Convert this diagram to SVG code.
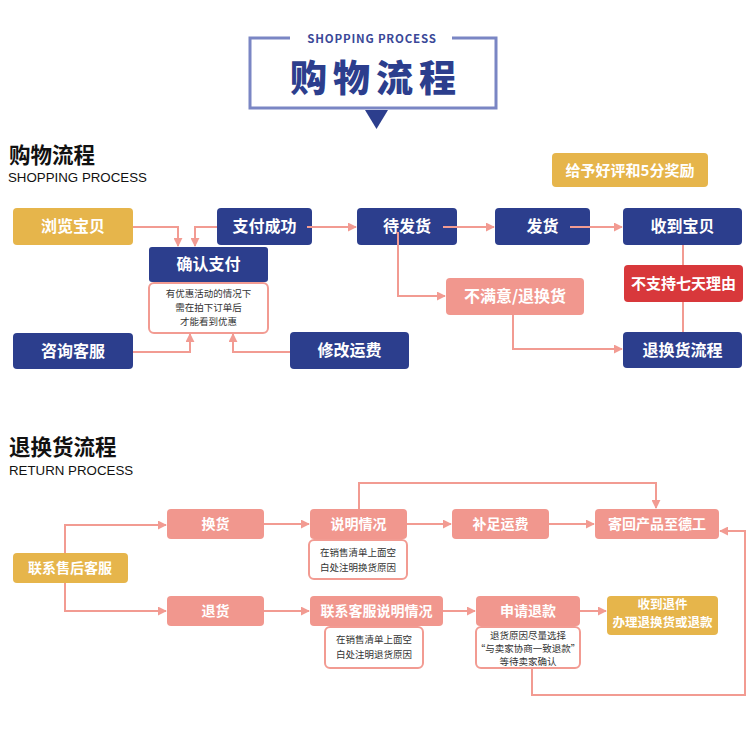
<svg xmlns="http://www.w3.org/2000/svg" width="750" height="742" viewBox="0 0 750 742">
<defs>
<style>
.t{font-family:"Noto Sans CJK SC","Noto Sans",sans-serif;}
.lbl{font-family:"Noto Sans CJK SC",sans-serif;font-weight:bold;fill:#fff;text-anchor:middle;}
.note{font-family:"Noto Sans CJK SC",sans-serif;fill:#333;text-anchor:middle;font-size:9.5px;}
.navy{fill:#2c3e8d;}
.gold{fill:#e6b54b;}
.salmon{fill:#f1978e;}
.red{fill:#d8383b;}
.nb{fill:#fff;stroke:#f29b92;stroke-width:2;}
.ln{fill:none;stroke:#f29b92;stroke-width:2;}
</style>
<marker id="ah" viewBox="0 0 10 10" refX="9" refY="5" markerWidth="9" markerHeight="9" markerUnits="userSpaceOnUse" orient="auto">
<path d="M0,0 L10,5 L0,10 z" fill="#f29b92"/>
</marker>
</defs>
<rect width="750" height="742" fill="#fff"/>

<!-- Header -->
<g id="header">
<path d="M290,38 H250 V108 H496 V38 H452" fill="none" stroke="#7a86c4" stroke-width="3"/>
<text x="372" y="43" class="t" font-size="11.5" font-weight="bold" fill="#3a4898" text-anchor="middle" letter-spacing="0.8">SHOPPING PROCESS</text>
<text x="376" y="92" class="t" font-size="37" font-weight="900" fill="#2c3e8d" text-anchor="middle" letter-spacing="6">购物流程</text>
<path d="M365,110 L388,110 L376.5,129 z" fill="#2c3e8d"/>
</g>

<g id="sec1">
<text x="9" y="163" class="t" font-size="21.5" font-weight="bold" fill="#111">购物流程</text>
<text x="8" y="182" font-family="Liberation Sans,Arial,sans-serif" font-size="13.3" fill="#111">SHOPPING PROCESS</text>
</g>

<g id="n-browse"><rect x="13" y="208" width="120" height="37" rx="4" class="gold"/><text x="73" y="232" class="lbl" font-size="16">浏览宝贝</text></g>
<g id="n-paid"><rect x="217" y="208" width="95" height="37" rx="4" class="navy"/><text x="264.5" y="232" class="lbl" font-size="16">支付成功</text></g>
<g id="n-confirm"><rect x="149" y="247" width="119" height="35" rx="3" class="navy"/><text x="208.5" y="270" class="lbl" font-size="16">确认支付</text></g>
<g id="n-confirm-note"><rect x="149" y="283" width="119" height="50" rx="5" class="nb"/>
<text class="note" x="208.5" y="297">有优惠活动的情况下</text>
<text class="note" x="208.5" y="311">需在拍下订单后</text>
<text class="note" x="208.5" y="325">才能看到优惠</text></g>
<g id="n-consult"><rect x="13" y="333" width="120" height="36" rx="4" class="navy"/><text x="73" y="357" class="lbl" font-size="16">咨询客服</text></g>
<g id="n-fee"><rect x="290" y="332" width="119" height="37" rx="4" class="navy"/><text x="349.5" y="356" class="lbl" font-size="16">修改运费</text></g>
<g id="n-wait"><rect x="357" y="208" width="100" height="37" rx="4" class="navy"/><text x="407" y="232" class="lbl" font-size="16">待发货</text></g>
<g id="n-ship"><rect x="495" y="208" width="95" height="37" rx="4" class="navy"/><text x="542.5" y="232" class="lbl" font-size="16">发货</text></g>
<g id="n-recv"><rect x="623" y="208" width="119" height="37" rx="4" class="navy"/><text x="682.5" y="232" class="lbl" font-size="16">收到宝贝</text></g>
<g id="n-review"><rect x="552" y="153" width="156" height="34" rx="4" class="gold"/><text x="630" y="176" class="lbl" font-size="15">给予好评和5分奖励</text></g>
<g id="n-unsat"><rect x="446" y="278" width="138" height="37" rx="4" class="salmon"/><text x="515" y="302" class="lbl" font-size="16">不满意/退换货</text></g>
<g id="n-no7"><rect x="624" y="265" width="119" height="37" rx="4" class="red"/><text x="683.5" y="289" class="lbl" font-size="15">不支持七天理由</text></g>
<g id="n-returnflow"><rect x="623" y="332" width="119" height="36" rx="4" class="navy"/><text x="682.5" y="356" class="lbl" font-size="16">退换货流程</text></g>

<g id="sec2">
<text x="9" y="455" class="t" font-size="21.5" font-weight="bold" fill="#111">退换货流程</text>
<text x="9" y="475" font-family="Liberation Sans,Arial,sans-serif" font-size="13.3" fill="#111">RETURN PROCESS</text>
</g>

<g id="n-contact"><rect x="13" y="553" width="115" height="30" rx="4" class="gold"/><text x="70" y="573" class="lbl" font-size="14">联系售后客服</text></g>
<g id="n-exchange"><rect x="167" y="509" width="97" height="30" rx="4" class="salmon"/><text x="215.5" y="529" class="lbl" font-size="14">换货</text></g>
<g id="n-explain"><rect x="310" y="509" width="97" height="30" rx="4" class="salmon"/><text x="358.5" y="529" class="lbl" font-size="14">说明情况</text></g>
<g id="n-explain-note"><rect x="309" y="540" width="98" height="39" rx="5" class="nb"/>
<text class="note" x="358" y="556" font-size="10.5">在销售清单上面空</text>
<text class="note" x="358" y="571" font-size="10.5">白处注明换货原因</text></g>
<g id="n-freight"><rect x="452" y="509" width="97" height="30" rx="4" class="salmon"/><text x="500.5" y="529" class="lbl" font-size="14">补足运费</text></g>
<g id="n-sendback"><rect x="595" y="509" width="124" height="30" rx="4" class="salmon"/><text x="657" y="529" class="lbl" font-size="14">寄回产品至德工</text></g>
<g id="n-refundgoods"><rect x="167" y="596" width="97" height="30" rx="4" class="salmon"/><text x="215.5" y="616" class="lbl" font-size="14">退货</text></g>
<g id="n-contact2"><rect x="310" y="596" width="133" height="30" rx="4" class="salmon"/><text x="376.5" y="616" class="lbl" font-size="14">联系客服说明情况</text></g>
<g id="n-contact2-note"><rect x="325" y="627" width="98" height="41" rx="5" class="nb"/>
<text class="note" x="374" y="643" font-size="10.5">在销售清单上面空</text>
<text class="note" x="374" y="658" font-size="10.5">白处注明退货原因</text></g>
<g id="n-apply"><rect x="476" y="596" width="104" height="30" rx="4" class="salmon"/><text x="528" y="616" class="lbl" font-size="14">申请退款</text></g>
<g id="n-apply-note"><rect x="476" y="627" width="104" height="41" rx="5" class="nb"/>
<text class="note" x="528" y="639">退货原因尽量选择</text>
<text class="note" x="528" y="652">“与卖家协商一致退款”</text>
<text class="note" x="528" y="665">等待卖家确认</text></g>
<g id="n-done"><rect x="607" y="596" width="111" height="39" rx="4" class="gold"/>
<text x="662.5" y="609" class="lbl" font-size="12.5">收到退件</text>
<text x="662.5" y="627" class="lbl" font-size="12.5">办理退换货或退款</text></g>

<g id="connectors">
<path class="ln" d="M133,227 H178 V246" marker-end="url(#ah)"/>
<path class="ln" d="M217,227 H195 V246" marker-end="url(#ah)"/>
<path class="ln" d="M133,352 H190 V334" marker-end="url(#ah)"/>
<path class="ln" d="M290,352 H233 V334" stroke="#e8574f" marker-end="url(#ah)"/>
<path class="ln" d="M307,227 H356" marker-end="url(#ah)"/>
<path class="ln" d="M443,227 H494" marker-end="url(#ah)"/>
<path class="ln" d="M570,227 H622" marker-end="url(#ah)"/>
<path class="ln" d="M683,245 V265 M683,302 V332"/>
<path class="ln" d="M398,232 V296 H445" marker-end="url(#ah)"/>
<path class="ln" d="M513,315 V349 H622" marker-end="url(#ah)"/>

<path class="ln" d="M65,553 V525 H166" marker-end="url(#ah)"/>
<path class="ln" d="M65,583 V611 H166" marker-end="url(#ah)"/>
<path class="ln" d="M264,524 H309" marker-end="url(#ah)"/>
<path class="ln" d="M407,524 H451" marker-end="url(#ah)"/>
<path class="ln" d="M549,524 H594" stroke="#ec6d63" marker-end="url(#ah)"/>
<path class="ln" d="M359,509 V483 H656 V508" marker-end="url(#ah)"/>
<path class="ln" d="M264,611 H309" marker-end="url(#ah)"/>
<path class="ln" d="M443,611 H475" marker-end="url(#ah)"/>
<path class="ln" d="M580,611 H606" marker-end="url(#ah)"/>
<path class="ln" d="M532,668 V695 H745 V531 H720" marker-end="url(#ah)"/>
</g>
</svg>
